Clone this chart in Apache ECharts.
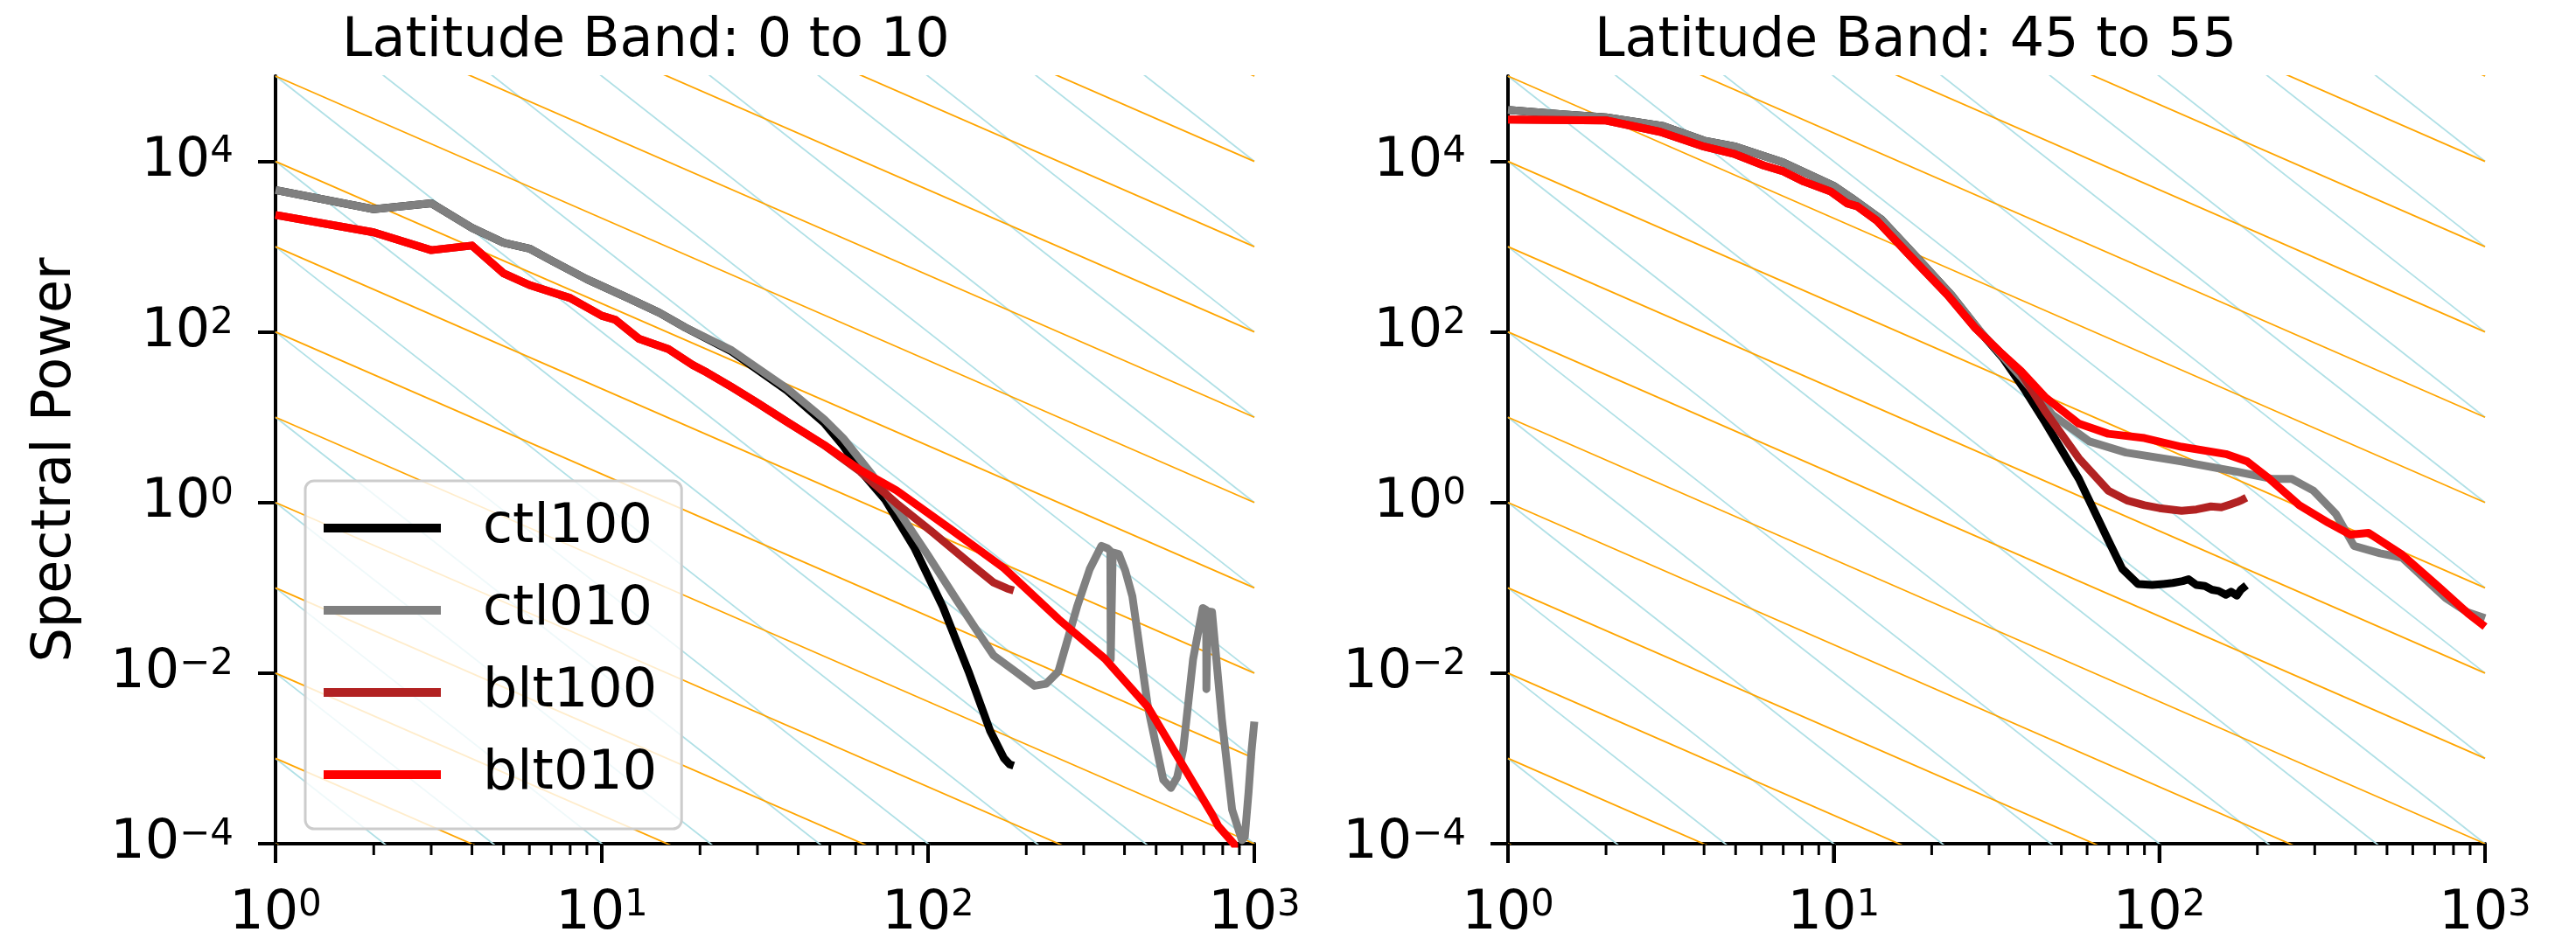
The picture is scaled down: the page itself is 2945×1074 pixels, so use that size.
<!DOCTYPE html>
<html>
<head>
    <meta charset="utf-8">
    <title>Spectral Power</title>
    <script src="https://cdn.jsdelivr.net/npm/echarts@6/dist/echarts.min.js"></script>
    <style>
        html, body { margin: 0; padding: 0; background: #fff; }
        #main { width: 2945px; height: 1074px; }
    </style>
</head>
<body>
<div id="main"></div>
<script type="text/javascript">
    // wavenumber k and power for each run
    // left panel: latitude band 0 to 10
    var L_ctl100_k = [1, 2, 3, 4, 5, 6, 7, 9, 12, 15, 18, 25, 37, 48, 55, 62, 74, 91, 111, 133, 155, 171, 178, 183];
    var L_ctl100_p = [4600, 2750, 3230, 1660, 1110, 950, 690, 415, 251, 168, 113, 59, 20.5, 8.6, 4.6, 2.36, 1.07, 0.29, 0.06, 0.0105, 0.0021, 0.001, 0.00085, 0.00082];

    var L_ctl010_k = [1, 2, 3, 4, 5, 6, 7, 9, 12, 15, 18, 25, 37, 48, 55, 67, 82, 100, 123, 140,
        159, 185, 212, 230, 251, 287, 313, 340, 355, 362, 363, 367, 368, 384, 402, 423, 472, 526, 555, 580,
        605, 649, 695, 712, 713, 719, 720, 742, 795, 855, 916, 935, 960, 980, 1000];
    var L_ctl010_p = [4600, 2750, 3230, 1660, 1110, 950, 690, 415, 251, 168, 113, 61, 21.7, 9.5, 5.65, 2.18, 0.75, 0.24, 0.07, 0.033,
        0.016, 0.0105, 0.0071, 0.0075, 0.0105, 0.062, 0.166, 0.31, 0.29, 0.27, 0.0145, 0.0145, 0.26, 0.25, 0.16, 0.079, 0.004, 0.00056, 0.00045, 0.0006,
        0.00126, 0.0145, 0.058, 0.055, 0.0065, 0.0065, 0.053, 0.052, 0.0029, 0.00025, 0.00011, 0.00012, 0.0004, 0.0012, 0.0027];

    var L_blt100_k = [1, 2, 3, 4, 5, 6, 8, 10, 11, 13, 16, 19, 21, 25, 30, 37, 48, 62, 80, 103, 133, 159, 175, 183];
    var L_blt100_p = [2350, 1470, 910, 1030, 487, 355, 250, 155, 139, 83, 63, 41, 33.5, 22.6, 14.7, 8.8, 4.7, 2.3, 0.98, 0.45, 0.2, 0.115, 0.098, 0.093];

    var L_blt010_k = [1, 2, 3, 4, 5, 6, 8, 10, 11, 13, 16, 19, 21, 25, 30, 37, 48, 62, 80, 117, 171, 251, 348, 472, 607, 743, 776, 865, 1000];
    var L_blt010_p = [2350, 1470, 910, 1030, 487, 355, 250, 155, 139, 83, 63, 41, 33.5, 22.6, 14.7, 8.8, 4.75, 2.4, 1.39, 0.49, 0.17, 0.043, 0.0148, 0.004, 0.0008, 0.00022, 0.00016, 0.0001, 0.00004];

    // right panel: latitude band 45 to 55
    var R_ctl100_k = [1, 1.47, 2, 3, 4, 5, 7, 10, 11.3, 14, 18, 23, 28.5, 33, 38.3, 44.7, 56.6, 69.7, 77, 86,
        95, 103, 110, 118, 123, 130, 138, 145, 152, 160, 166, 173, 178, 185];
    var R_ctl100_p = [40000, 35600, 32800, 25900, 17500, 14900, 9700, 5160, 3770, 2090, 750, 270, 95, 50, 22, 8.6, 1.9, 0.36, 0.166, 0.111,
        0.108, 0.111, 0.114, 0.12, 0.126, 0.108, 0.105, 0.095, 0.092, 0.083, 0.09, 0.081, 0.095, 0.107];

    var R_ctl010_k = [1, 1.47, 2, 3, 4, 5, 7, 10, 11.3, 14, 18, 23, 28.5, 37.6, 47, 61, 79, 117, 173, 223,
        255, 297, 348, 396, 476, 556, 650, 757, 880, 1000];
    var R_ctl010_p = [40000, 35600, 32800, 25900, 17500, 14900, 9700, 5160, 3770, 2090, 750, 270, 97, 29.8, 10.7, 5.2, 3.85, 3.03, 2.3, 1.89,
        1.89, 1.38, 0.74, 0.31, 0.254, 0.226, 0.13, 0.076, 0.052, 0.044];

    var R_blt100_k = [1, 2, 2.93, 4, 4.93, 6.1, 7, 8.1, 9.8, 11, 11.8, 13.6, 17.7, 22.4, 27.1, 32.8, 37.6, 44.7, 56.6, 69.7,
        80, 90, 100, 117, 130, 144, 155, 165, 173, 180, 185];
    var R_blt100_p = [30900, 30200, 22200, 14900, 12300, 8950, 7650, 5800, 4420, 3220, 2980, 2000, 690, 270, 113, 55.8, 33, 11.6, 3.3, 1.38,
        1.05, 0.93, 0.86, 0.8, 0.83, 0.9, 0.88, 0.95, 1.01, 1.08, 1.14];

    var R_blt010_k = [1, 2, 2.93, 4, 4.93, 6.1, 7, 8.1, 9.8, 11, 11.8, 13.6, 17.7, 22.4, 27.1, 32.8, 37.6, 44.7, 56.6, 69.7,
        90, 117, 160, 186, 218, 269, 330, 386, 439, 556, 720, 887, 1000];
    var R_blt010_p = [30900, 30200, 22200, 14900, 12300, 8950, 7650, 5800, 4420, 3220, 2980, 2000, 690, 270, 113, 55.8, 34.8, 17.1, 8.4, 6.4,
        5.7, 4.5, 3.7, 3.04, 1.89, 0.93, 0.58, 0.42, 0.44, 0.245, 0.103, 0.05, 0.035];

    // reference power laws: log10 of the value at k = 1, and the slope
    var orangeExp = [-4, -3, -2, -1, 0, 1, 2, 3, 4, 5, 6, 7, 8, 9, 10];
    var orangeSlope = -5 / 3;
    var blueExp = [-4, -3, -2, -1, 0, 1, 2, 3, 4, 5, 6, 7, 8, 9, 10, 11, 12, 13, 14];
    var blueSlope = -3;

    // ticks (powers of ten)
    var xMajorTicks = [1, 10, 100, 1000];
    var xMinorTicks = [2, 3, 4, 5, 6, 7, 8, 9, 20, 30, 40, 50, 60, 70, 80, 90, 200, 300, 400, 500, 600, 700, 800, 900];
    var yMajorTicks = [1e-4, 1e-2, 1, 1e2, 1e4];

    var titles = ['Latitude Band: 0 to 10', 'Latitude Band: 45 to 55'];
    var runNames = ['ctl100', 'ctl010', 'blt100', 'blt010'];
    var runColors = ['#000000', '#808080', '#b22222', '#ff0000'];

    var FONT = 'DejaVu Sans';

    // axes are log10 of k and of power
    function toLog(ks, ps) {
        return ks.map(function (k, i) { return [Math.log10(k), Math.log10(ps[i])]; });
    }
    function lg(arr) { return arr.map(function (v) { return Math.log10(v); }); }

    function powLabel(v) {
        var n = Math.round(v);
        return '{m|10}{e|' + (n < 0 ? '\u2212' + (-n) : n) + '}';
    }
    var labelRich = {
        m: { fontSize: 62, lineHeight: 62, fontFamily: FONT, color: '#000', verticalAlign: 'bottom' },
        e: { fontSize: 42, lineHeight: 30, fontFamily: FONT, color: '#000', verticalAlign: 'top' }
    };

    var myChart = echarts.init(document.getElementById('main'));

    var grids = [
        { left: 315, top: 87, width: 1119, height: 878, outerBoundsMode: 'none', containLabel: false },
        { left: 1724, top: 87, width: 1117, height: 878, outerBoundsMode: 'none', containLabel: false }
    ];

    var xAxes = [], yAxes = [];
    [0, 1].forEach(function (i) {
        xAxes.push({
            gridIndex: i, type: 'value', min: 0, max: 3,
            axisLine: { show: true, onZero: false, lineStyle: { color: '#000', width: 4 } },
            axisTick: { show: true, length: 22, lineStyle: { color: '#000', width: 4 }, customValues: lg(xMajorTicks) },
            axisLabel: { show: true, margin: 50, customValues: lg(xMajorTicks), formatter: powLabel, rich: labelRich },
            splitLine: { show: false }
        });
        var ya = {
            gridIndex: i, type: 'value', min: -4, max: 5,
            axisLine: { show: true, onZero: false, lineStyle: { color: '#000', width: 4 } },
            axisTick: { show: true, length: 20, lineStyle: { color: '#000', width: 4 }, customValues: lg(yMajorTicks) },
            axisLabel: { show: true, margin: 48, customValues: lg(yMajorTicks), formatter: powLabel, rich: labelRich },
            splitLine: { show: false }
        };
        if (i === 0) {
            ya.name = 'Spectral Power';
            ya.nameLocation = 'middle';
            ya.nameRotate = 90;
            ya.nameGap = 220;
            ya.nameTextStyle = { fontSize: 62, lineHeight: 62, fontFamily: FONT, color: '#000' };
        }
        yAxes.push(ya);
    });

    var series = [];
    [0, 1].forEach(function (g) {
        blueExp.forEach(function (n) {
            series.push({
                type: 'line', xAxisIndex: g, yAxisIndex: g, silent: true, symbol: 'none', z: 1,
                data: [[0, n], [3, n + 3 * blueSlope]],
                lineStyle: { color: '#b0e0e6', width: 1.8 }
            });
        });
        orangeExp.forEach(function (n) {
            series.push({
                type: 'line', xAxisIndex: g, yAxisIndex: g, silent: true, symbol: 'none', z: 1,
                data: [[0, n], [3, n + 3 * orangeSlope]],
                lineStyle: { color: '#ffa500', width: 1.8 }
            });
        });
    });

    var runs = [
        [L_ctl100_k, L_ctl100_p, R_ctl100_k, R_ctl100_p],
        [L_ctl010_k, L_ctl010_p, R_ctl010_k, R_ctl010_p],
        [L_blt100_k, L_blt100_p, R_blt100_k, R_blt100_p],
        [L_blt010_k, L_blt010_p, R_blt010_k, R_blt010_p]
    ];
    [0, 1].forEach(function (g) {
        runs.forEach(function (r, j) {
            series.push({
                name: runNames[j], type: 'line', xAxisIndex: g, yAxisIndex: g,
                symbol: 'none', showSymbol: false, silent: true, z: 3,
                data: toLog(r[g * 2], r[g * 2 + 1]),
                itemStyle: { color: runColors[j] },
                lineStyle: { color: runColors[j], width: 9, join: 'round', cap: 'butt' }
            });
        });
    });

    var option = {
        animation: false,
        title: [
            { text: titles[0], left: 391, top: 17, padding: 0,
              textStyle: { fontSize: 62, lineHeight: 62, fontWeight: 'normal', fontFamily: FONT, color: '#000' } },
            { text: titles[1], left: 1823, top: 17, padding: 0,
              textStyle: { fontSize: 62, lineHeight: 62, fontWeight: 'normal', fontFamily: FONT, color: '#000' } }
        ],
        legend: {
            data: runNames, orient: 'vertical', left: 349, top: 550,
            padding: [23, 28, 31, 21], itemGap: 32, itemWidth: 134, itemHeight: 10,
            icon: 'rect', selectedMode: false,
            backgroundColor: 'rgba(255,255,255,0.8)', borderColor: '#cccccc', borderWidth: 3, borderRadius: 10,
            textStyle: { fontSize: 62, lineHeight: 62, fontFamily: FONT, color: '#000', padding: [0, 0, 0, 43] }
        },
        grid: grids,
        xAxis: xAxes,
        yAxis: yAxes,
        series: series
    };

    myChart.setOption(option);

    // log-spaced x ticks, placed with the chart's own axis scale
    var tickMarks = [];
    [0, 1].forEach(function (g) {
        var y0 = myChart.convertToPixel({ yAxisIndex: g }, -4);
        function addTicks(vals, len, w) {
            vals.forEach(function (v) {
                var x = myChart.convertToPixel({ xAxisIndex: g }, Math.log10(v));
                tickMarks.push({
                    type: 'rect', silent: true, z: 100,
                    shape: { x: x - w / 2, y: y0, width: w, height: len },
                    style: { fill: '#000000' }
                });
            });
        }
        addTicks(xMajorTicks, 22, 4);
        addTicks(xMinorTicks, 13, 3);
    });
    myChart.setOption({ graphic: tickMarks });
</script>
</body>
</html>
